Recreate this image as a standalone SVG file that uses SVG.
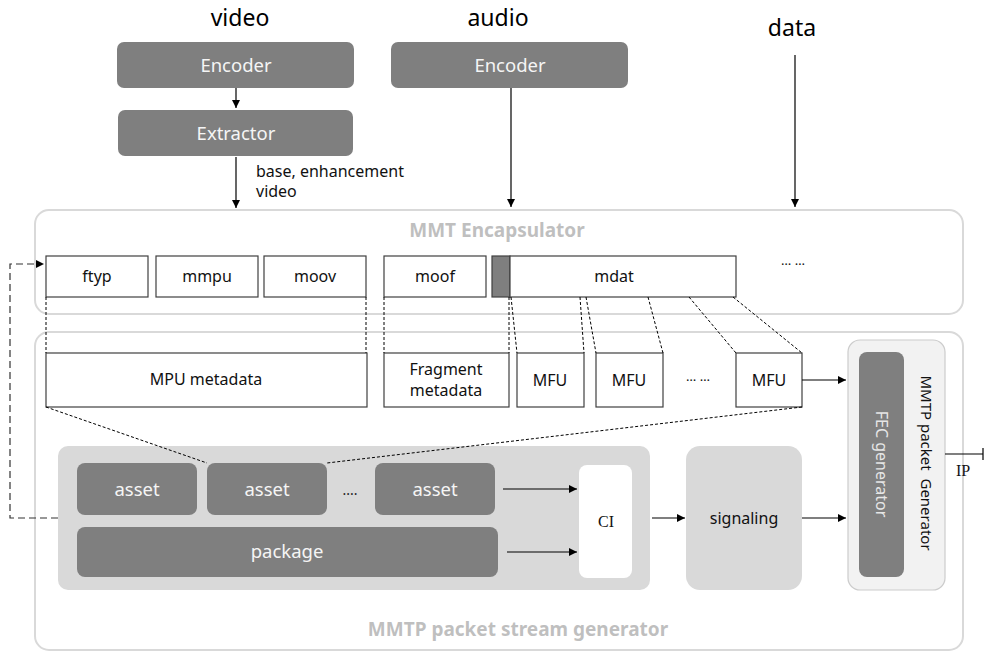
<svg xmlns="http://www.w3.org/2000/svg" width="984" height="652" viewBox="0 0 984 652">
  <defs>
    <marker id="arr" viewBox="0 0 10 10" refX="10" refY="5" markerWidth="8" markerHeight="8" markerUnits="userSpaceOnUse" orient="auto">
      <path d="M0,0 L10,5 L0,10 z" fill="#000"/>
    </marker>
    <style>
      text { font-family: "Noto Sans", "Open Sans", "Liberation Sans", sans-serif; }
      .dark { fill: #7f7f7f; }
      .wt { fill: #f5f5f5; font-size: 18.5px; text-anchor: middle; }
      .box { fill: #fff; stroke: #404040; stroke-width: 1.2; }
      .bt { fill: #111; font-size: 16px; text-anchor: middle; }
      .frame { fill: #fff; stroke: #d9d9d9; stroke-width: 2; }
      .title { fill: #bfbfbf; font-size: 19px; font-weight: bold; text-anchor: middle; }
      .lbl { fill: #000; font-size: 23px; text-anchor: middle; }
      .serif { font-family: "Liberation Serif", "DejaVu Serif", serif; }
      .con { stroke: #000; stroke-width: 1.2; fill: none; }
      .dash { stroke: #000; stroke-width: 1; fill: none; stroke-dasharray: 3 2; }
      .ldash { stroke: #333; stroke-width: 1.2; fill: none; stroke-dasharray: 7 4; }
    </style>
  </defs>
  <rect width="984" height="652" fill="#fff"/>

  <!-- source labels -->
  <text class="lbl" x="240" y="26">video</text>
  <text class="lbl" x="498" y="26">audio</text>
  <text class="lbl" x="792" y="36">data</text>

  <g id="video-encoder">
    <rect class="dark" x="117" y="42" width="237" height="46" rx="7"/>
    <text class="wt" x="236" y="72">Encoder</text>
  </g>
  <g id="extractor">
    <rect class="dark" x="118" y="110" width="235" height="46" rx="7"/>
    <text class="wt" x="236" y="140">Extractor</text>
  </g>
  <g id="audio-encoder">
    <rect class="dark" x="391" y="42" width="237" height="46" rx="7"/>
    <text class="wt" x="510" y="72">Encoder</text>
  </g>
  <text x="256" y="177" font-size="16" fill="#111">base, enhancement</text>
  <text x="256" y="197" font-size="16" fill="#111">video</text>

  <!-- MMT Encapsulator -->
  <g id="mmt-encapsulator">
    <rect class="frame" x="35" y="210" width="928" height="104" rx="14"/>
    <text class="title" x="497" y="237">MMT Encapsulator</text>
  </g>
  <g id="ftyp"><rect class="box" x="46" y="256" width="102" height="41"/><text class="bt" x="97" y="282">ftyp</text></g>
  <g id="mmpu"><rect class="box" x="156" y="256" width="102" height="41"/><text class="bt" x="207" y="282">mmpu</text></g>
  <g id="moov"><rect class="box" x="264" y="256" width="102" height="41"/><text class="bt" x="315" y="282">moov</text></g>
  <g id="moof"><rect class="box" x="384" y="256" width="102" height="41"/><text class="bt" x="435" y="282">moof</text></g>
  <g id="mdat-header"><rect x="492" y="256" width="18" height="41" fill="#7f7f7f" stroke="#404040" stroke-width="1.2"/></g>
  <g id="mdat"><rect class="box" x="510" y="256" width="226" height="41"/><text class="bt" x="614" y="282">mdat</text></g>
  <text x="793" y="265" font-size="13" fill="#111" text-anchor="middle">… …</text>

  <!-- MMTP packet stream generator -->
  <g id="mmtp-stream-generator">
    <rect class="frame" x="35" y="332" width="928" height="318" rx="14"/>
    <text class="title" x="518" y="636">MMTP packet stream generator</text>
  </g>
  <g id="mpu-metadata"><rect class="box" x="46" y="353" width="321" height="54"/><text class="bt" x="206" y="385" font-size="14.5">MPU metadata</text></g>
  <g id="fragment-metadata"><rect class="box" x="384" y="353" width="125" height="54"/>
    <text class="bt" x="446" y="375" font-size="14">Fragment</text>
    <text class="bt" x="446" y="396" font-size="14">metadata</text></g>
  <g id="mfu-1"><rect class="box" x="517" y="353" width="67" height="54"/><text class="bt" x="550" y="386">MFU</text></g>
  <g id="mfu-2"><rect class="box" x="596" y="353" width="67" height="54"/><text class="bt" x="629" y="386">MFU</text></g>
  <text x="698" y="381" font-size="13" fill="#111" text-anchor="middle">… …</text>
  <g id="mfu-n"><rect class="box" x="736" y="353" width="66" height="54"/><text class="bt" x="769" y="386">MFU</text></g>

  <g id="asset-group">
    <rect x="58" y="446" width="592" height="144" rx="10" fill="#d9d9d9"/>
  </g>
  <g id="asset-1"><rect class="dark" x="77" y="463" width="120" height="52" rx="8"/><text class="wt" x="137" y="496">asset</text></g>
  <g id="asset-2"><rect class="dark" x="207" y="463" width="120" height="52" rx="8"/><text class="wt" x="267" y="496">asset</text></g>
  <text x="350" y="495" font-size="14" fill="#222" text-anchor="middle">....</text>
  <g id="asset-n"><rect class="dark" x="375" y="463" width="120" height="52" rx="8"/><text class="wt" x="435" y="496">asset</text></g>
  <g id="package"><rect class="dark" x="77" y="527" width="421" height="50" rx="8"/><text class="wt" x="287" y="558">package</text></g>
  <g id="ci"><rect x="579" y="465" width="53" height="113" rx="8" fill="#fff"/><text class="serif" x="606" y="527" font-size="16" text-anchor="middle" fill="#111">CI</text></g>

  <g id="signaling"><rect x="686" y="446" width="116" height="144" rx="14" fill="#d9d9d9"/><text class="bt" x="744" y="524" font-size="16.5">signaling</text></g>

  <g id="mmtp-packet-generator">
    <rect x="848" y="340" width="97" height="250" rx="12" fill="#f2f2f2" stroke="#cccccc" stroke-width="1.2"/>
    <rect class="dark" x="859" y="352" width="45" height="225" rx="8"/>
    <text x="876" y="464" transform="rotate(90 876 464)" font-size="16" fill="#e6e6e6" text-anchor="middle">FEC generator</text>
    <text x="921" y="463" transform="rotate(90 921 463)" font-size="15" fill="#111" text-anchor="middle" xml:space="preserve">MMTP packet  Generator</text>
  </g>
  <text class="serif" x="963" y="476" font-size="16" text-anchor="middle" fill="#111">IP</text>

  <g id="connectors">
    <line class="con" x1="236" y1="88" x2="236" y2="108" marker-end="url(#arr)"/>
    <line class="con" x1="236" y1="157" x2="236" y2="208" marker-end="url(#arr)"/>
    <line class="con" x1="511" y1="88" x2="511" y2="207" marker-end="url(#arr)"/>
    <line class="con" x1="795" y1="55" x2="795" y2="207" marker-end="url(#arr)"/>

    <!-- box-to-unit mappings -->
    <line class="dash" x1="46" y1="297" x2="46" y2="353"/>
    <line class="dash" x1="366" y1="297" x2="366" y2="353"/>
    <line class="dash" x1="384" y1="297" x2="384" y2="353"/>
    <line class="dash" x1="509" y1="297" x2="509" y2="353"/>
    <line class="dash" x1="511" y1="297" x2="517" y2="353"/>
    <line class="dash" x1="580" y1="297" x2="584" y2="353"/>
    <line class="dash" x1="586" y1="297" x2="596" y2="353"/>
    <line class="dash" x1="648" y1="297" x2="663" y2="353"/>
    <line class="dash" x1="689" y1="297" x2="736" y2="353"/>
    <line class="dash" x1="733" y1="297" x2="802" y2="353"/>
    <line class="dash" x1="46" y1="407" x2="207" y2="463"/>
    <line class="dash" x1="802" y1="407" x2="327" y2="463"/>

    <line class="con" x1="802" y1="380" x2="846" y2="380" marker-end="url(#arr)"/>
    <line class="con" x1="503" y1="489" x2="577" y2="489" marker-end="url(#arr)"/>
    <line class="con" x1="507" y1="552" x2="577" y2="552" marker-end="url(#arr)"/>
    <line class="con" x1="652" y1="518" x2="685" y2="518" marker-end="url(#arr)"/>
    <line class="con" x1="802" y1="518" x2="846" y2="518" marker-end="url(#arr)"/>
    <line class="con" x1="945" y1="454" x2="983" y2="454"/>
    <line class="con" x1="983" y1="448" x2="983" y2="460"/>

    <!-- feedback path -->
    <polyline class="ldash" points="58,518 10,518 10,264 38,264"/>
    <path d="M44,264 L36,260 L36,268 z" fill="#000"/>
  </g>
</svg>
